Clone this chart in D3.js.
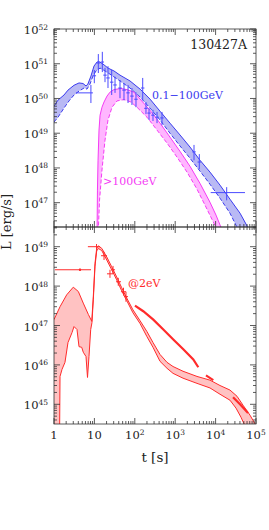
<!DOCTYPE html>
<html>
<head>
<script src="https://d3js.org/d3.v7.min.js"></script>
<style>
  body { margin:0; background:#fff; }
  svg text { font-family:"DejaVu Serif", serif; fill:#222; }
</style>
</head>
<body>
<svg id="chart" width="269" height="530"></svg>
<script>
// ---- 0.1-100 GeV band (blue): upper (solid) and lower (dashed) model curves
var gevHiT = [1, 1.26, 1.77, 2.22, 3.13, 4.16, 5.22, 6.2, 6.9, 8.2, 9.8, 11.6, 13.0, 16.3, 21.7, 30.5, 43, 76, 135, 238, 421, 743, 1315, 2323, 4110, 7260, 12850, 22700, 40200, 71000];
var gevHiL = [6.0e49, 9.0e49, 1.26e50, 1.74e50, 2.4e50, 2.8e50, 2.7e50, 2.3e50, 2.6e50, 4.4e50, 8.6e50, 1.12e51, 1.15e51, 9.8e50, 7.5e50, 6.2e50, 4.7e50, 3.2e50, 1.86e50, 9.6e49, 4.3e49, 1.95e49, 8.9e48, 4.0e48, 1.67e48, 7.6e47, 3.2e47, 1.26e47, 5.0e46, 1.5e46];
var gevLoT = [1, 1.26, 1.77, 2.35, 3.13, 4.16, 5.53, 6.56, 7.78, 9.2, 10.96, 13.8, 18.3, 24.3, 43, 76, 135, 238, 421, 743, 1315, 2323, 4110, 7260, 12850, 22700, 33900, 40200];
var gevLoL = [2.1e49, 2.9e49, 5.3e49, 8.5e49, 1.26e50, 1.63e50, 2.0e50, 1.86e50, 2.6e50, 4.4e50, 6.2e50, 7.5e50, 6.2e50, 5.0e50, 3.2e50, 2.0e50, 1.1e50, 5.3e49, 2.4e49, 1.0e49, 4.3e48, 1.91e48, 8.1e47, 3.4e47, 1.35e47, 5.0e46, 1.96e46, 1.4e46];

// LAT points
var latT   = [8.2, 9.95, 12.5, 15.7, 18.3, 21.7, 26.8, 32.4, 43, 54, 68, 85, 107, 157, 189, 225, 282, 355, 471, 2920, 3950, 18800];
var latTlo = [3.5, 9.0, 11.3, 14.2, 16.6, 19.6, 24.3, 29.3, 39, 49, 61.5, 77, 97, 142, 171, 204, 255, 321, 426, 2640, 3570, 7560];
var latThi = [9.2, 11.0, 13.8, 17.3, 20.2, 24.0, 29.6, 35.8, 47.5, 60, 75, 94, 118, 173, 209, 249, 312, 392, 521, 3230, 4370, 53400];
var latL   = [1.45e50, 4.5e50, 1.05e51, 1.12e51, 4.7e50, 3.9e50, 2.95e50, 2.45e50, 2.0e50, 1.74e50, 1.45e50, 1.17e50, 9.5e49, 2.0e50, 5.2e49, 3.8e49, 3.3e49, 2.9e49, 2.75e49, 2.9e48, 1.48e48, 1.95e47];
var latLlo = [7.4e49, 2.75e50, 5.4e50, 5.75e50, 2.95e50, 2.0e50, 1.26e50, 1.45e50, 1.02e50, 8.9e49, 7.4e49, 6.5e49, 5.6e49, 8.9e49, 3.55e49, 2.4e49, 2.25e49, 1.95e49, 1.7e49, 1.66e48, 9.3e47, 1.17e47];
var latLhi = [2.45e50, 6.6e50, 1.9e51, 2.2e51, 7.6e50, 8.5e50, 6.6e50, 4.2e50, 3.4e50, 2.75e50, 2.45e50, 2.0e50, 1.5e50, 3.9e50, 7.9e49, 5.2e49, 4.7e49, 4.1e49, 4.1e49, 4.6e48, 2.5e48, 2.8e47];

// ---- >100 GeV band (magenta)
var tevHiT = [11.6, 11.9, 12.3, 13.0, 13.8, 15.4, 17.3, 20.5, 24.3, 30.5, 45.5, 64, 95.5, 142, 238, 421, 743, 1315, 2323, 4110, 7260, 10230, 13600, 16100];
var tevHiL = [1e46, 2.3e47, 1.67e48, 1.23e49, 3.3e49, 5.6e49, 7.9e49, 1.17e50, 1.52e50, 1.8e50, 1.94e50, 1.8e50, 1.52e50, 9.0e49, 4.6e49, 1.95e49, 7.7e48, 3.0e48, 1.12e48, 3.6e47, 1.03e47, 4.4e46, 1.95e46, 1.3e46];
var tevLoT = [12.3, 13.4, 15.4, 18.3, 21.7, 27.3, 36.3, 54, 80.5, 113, 200, 355, 627, 1109, 1960, 3467, 5470, 8150, 10230, 11460];
var tevLoL = [1e46, 1.18e47, 8.7e47, 6.3e48, 2.4e49, 5.6e49, 8.5e49, 9.3e49, 7.9e49, 5.6e49, 2.9e49, 1.23e49, 5.2e48, 2.05e48, 7.6e47, 2.45e47, 8.5e46, 3.3e46, 1.95e46, 1.4e46];

// ---- optical @2eV band (red)
var optHiT = [1, 1.41, 2.06, 3.0, 4.0, 5.3, 7.1, 8.6, 9.4, 10.35, 11.4, 12.5, 15.2, 20.2, 26.8, 35.6, 47.4, 63, 90, 135, 200, 282, 421, 627, 883, 1560, 3467, 7260, 12850, 22700, 33900, 47700, 71000, 94500, 100000];
var optHiL = [1.41e47, 3.0e47, 6.0e47, 9.4e47, 7.3e47, 3.7e47, 1.9e47, 1.28e47, 5.5e47, 3.8e48, 9.1e48, 1.05e49, 9.1e48, 5.5e48, 3.1e48, 1.71e48, 9.1e47, 5.0e47, 2.5e47, 1.32e47, 7.0e46, 3.7e46, 1.84e46, 1.16e46, 9.1e45, 6.9e45, 5.1e45, 4.1e45, 3.0e45, 2.3e45, 1.6e45, 9.5e44, 5.3e44, 3.2e44, 2.6e44];
var optLoT = [1, 1.37, 1.41, 1.58, 1.87, 2.22, 2.79, 3.13, 3.71, 4.16, 4.85, 5.3, 6.2, 6.75, 7.35, 8.1, 8.7, 9.4, 10.35, 11.4, 12.5, 15.2, 20.2, 26.8, 35.6, 47.4, 63, 90, 135, 200, 282, 421, 627, 883, 1560, 3467, 7260, 12850, 22700, 32000, 42500, 50500, 59900];
var optLoL = [1e44, 1e44, 5.1e45, 7.7e45, 1.16e46, 3.7e46, 6.6e46, 9.4e46, 7.9e46, 2.9e46, 2.8e46, 2.1e46, 1.63e46, 4.8e45, 1.63e46, 7.9e46, 1.18e47, 4.5e47, 3.2e48, 7.8e48, 9.0e48, 8.0e48, 4.6e48, 2.6e48, 1.44e48, 7.6e47, 4.3e47, 2.1e47, 1.12e47, 5.2e46, 2.8e46, 1.23e46, 8.2e45, 6.1e45, 4.6e45, 3.4e45, 2.6e45, 1.8e45, 1.27e45, 8.0e44, 4.7e44, 3.2e44, 2.1e44];

// dense optical light curve (null = gap)
var optObsT = [101, 162, 287, 508, 897, 1585, 2805, 3730, null, 5780, 8770, null, 27000, 40200, 63400];
var optObsL = [3.2e47, 2.3e47, 1.41e47, 7.9e46, 4.4e46, 2.5e46, 1.38e46, 8.7e45, null, 5.4e45, 4.1e45, null, 1.51e45, 1.0e45, 6.0e44];

// early optical points
var optT   = [4.4, 11.3, 17.3, 24.3, 28.9, 39, 52.5, 60.5];
var optTlo = [1.06, 6.9, 14.6, 20.5, 25.8, 34.3, 45.5, 54];
var optThi = [8.24, 13.8, 20.5, 28.9, 32.4, 45.5, 60.5, 68];
var optL   = [2.6e48, 1.0e49, 5.9e48, 2.05e48, 2.6e48, 1.29e48, 7.2e47, 5.4e47];
var optLlo = [2.45e48, 8.7e48, 4.6e48, 1.62e48, 2.05e48, 1.02e48, 5.75e47, 4.0e47];
var optLhi = [2.75e48, 1.17e49, 7.4e48, 2.6e48, 3.25e48, 1.62e48, 9.1e47, 7.2e47];

var xDomain = [1, 1e5];
var topDomain = [Math.pow(10, 46.3), 1e52];
var botDomain = [Math.pow(10, 44.5), Math.pow(10, 49.5)];

var svg = d3.select('#chart');
var left = 54, right = 256, top1 = 29, mid = 227, bot = 424;

var x = d3.scaleLog().domain(xDomain).range([left, right]);
var yTop = d3.scaleLog().domain(topDomain).range([mid, top1]);
var yBot = d3.scaleLog().domain(botDomain).range([bot, mid]);

var blue = '#3b3bef', blueFill = '#b9b9f4';
var mag = '#f43cf4', magFill = '#ffb6ff';
var red = '#ff2b2b', redFill = '#ffc2c2';

var defs = svg.append('defs');
defs.append('clipPath').attr('id', 'clipTop').append('rect')
  .attr('x', left).attr('y', top1).attr('width', right - left).attr('height', mid - top1);
defs.append('clipPath').attr('id', 'clipBot').append('rect')
  .attr('x', left).attr('y', mid).attr('width', right - left).attr('height', bot - mid);

var gTop = svg.append('g').attr('clip-path', 'url(#clipTop)');
var gBot = svg.append('g').attr('clip-path', 'url(#clipBot)');

function pts(ts, ls) { return ts.map(function(t, i) { return [t, ls[i]]; }); }

function band(g, y, hiT, hiL, loT, loL, fill, stroke, loDash) {
  var line = d3.line().x(function(d) { return x(d[0]); }).y(function(d) { return y(d[1]); });
  var hi = pts(hiT, hiL), lo = pts(loT, loL);
  g.append('path').attr('d', line(hi.concat(lo.slice().reverse())) + 'Z')
    .attr('fill', fill).attr('stroke', 'none');
  g.append('path').attr('d', line(hi)).attr('fill', 'none')
    .attr('stroke', stroke).attr('stroke-width', 1);
  g.append('path').attr('d', line(lo)).attr('fill', 'none')
    .attr('stroke', stroke).attr('stroke-width', 1)
    .attr('stroke-dasharray', loDash ? '4,2' : null);
}

function crosses(g, y, t, tlo, thi, L, Llo, Lhi, color) {
  t.forEach(function(d, i) {
    g.append('line').attr('x1', x(d)).attr('x2', x(d))
      .attr('y1', y(Llo[i])).attr('y2', y(Lhi[i]))
      .attr('stroke', color).attr('stroke-width', 1);
    g.append('line').attr('x1', x(tlo[i])).attr('x2', x(thi[i]))
      .attr('y1', y(L[i])).attr('y2', y(L[i]))
      .attr('stroke', color).attr('stroke-width', 1);
  });
}

band(gTop, yTop, gevHiT, gevHiL, gevLoT, gevLoL, blueFill, blue, true);
band(gTop, yTop, tevHiT, tevHiL, tevLoT, tevLoL, magFill, mag, true);
crosses(gTop, yTop, latT, latTlo, latThi, latL, latLlo, latLhi, '#4a4aff');

band(gBot, yBot, optHiT, optHiL, optLoT, optLoL, redFill, red, false);
var obsLine = d3.line().defined(function(d) { return d[0] != null; })
  .x(function(d) { return x(d[0]); }).y(function(d) { return yBot(d[1]); });
gBot.append('path').attr('d', obsLine(pts(optObsT, optObsL)))
  .attr('fill', 'none').attr('stroke', red).attr('stroke-width', 2.2);
crosses(gBot, yBot, optT, optTlo, optThi, optL, optLlo, optLhi, red);
gBot.append('circle').attr('cx', x(optT[0])).attr('cy', yBot(optL[0])).attr('r', 1.2).attr('fill', red);

// frames and ticks
function isMajor(v) { var l = Math.log10(v); return Math.abs(l - Math.round(l)) < 1e-6; }

function frame(y, yt, yb) {
  var g = svg.append('g').attr('stroke', '#333').attr('stroke-width', 0.8);
  g.append('rect').attr('x', left).attr('y', yt).attr('width', right - left).attr('height', yb - yt)
    .attr('fill', 'none');
  x.ticks().forEach(function(v) {
    var len = isMajor(v) ? 6 : 3;
    g.append('line').attr('x1', x(v)).attr('x2', x(v)).attr('y1', yt).attr('y2', yt + len);
    g.append('line').attr('x1', x(v)).attr('x2', x(v)).attr('y1', yb).attr('y2', yb - len);
  });
  y.ticks().forEach(function(v) {
    if (v < y.domain()[0] || v > y.domain()[1]) return;
    var len = isMajor(v) ? 6 : 3;
    g.append('line').attr('y1', y(v)).attr('y2', y(v)).attr('x1', left).attr('x2', left + len);
    g.append('line').attr('y1', y(v)).attr('y2', y(v)).attr('x1', right).attr('x2', right - len);
  });
  y.ticks().filter(isMajor).forEach(function(v) {
    if (v < y.domain()[0] || v > y.domain()[1]) return;
    var tx = svg.append('text').attr('x', 48).attr('y', y(v) + 5)
      .attr('text-anchor', 'end').attr('font-size', 11.5);
    tx.append('tspan').text('10');
    tx.append('tspan').attr('dy', -4.5).attr('font-size', 7.5).text(Math.round(Math.log10(v)));
  });
}
frame(yTop, top1, mid);
frame(yBot, mid, bot);

x.ticks().filter(isMajor).forEach(function(v) {
  var e = Math.round(Math.log10(v));
  var tx = svg.append('text').attr('x', x(v)).attr('y', 439)
    .attr('text-anchor', 'middle').attr('font-size', 11.5);
  if (e === 0) tx.text('1');
  else if (e === 1) tx.text('10');
  else {
    tx.append('tspan').text('10');
    tx.append('tspan').attr('dy', -4.5).attr('font-size', 7.5).text(e);
  }
});

svg.append('text').attr('x', 155).attr('y', 462).attr('text-anchor', 'middle')
  .attr('font-size', 13.5).text('t [s]');
svg.append('text').attr('transform', 'translate(11,222) rotate(-90)')
  .attr('text-anchor', 'middle').attr('font-size', 13).text('L [erg/s]');

svg.append('text').attr('x', 247).attr('y', 49).attr('text-anchor', 'end')
  .attr('font-size', 12.5).text('130427A');
svg.append('text').attr('x', 152).attr('y', 99).attr('font-size', 11)
  .style('fill', blue).text('0.1\u2212100GeV');
svg.append('text').attr('x', 103).attr('y', 185).attr('font-size', 11)
  .style('fill', mag).text('>100GeV');
svg.append('text').attr('x', 128).attr('y', 287).attr('font-size', 11)
  .style('fill', red).text('@2eV');
</script>
</body>
</html>
